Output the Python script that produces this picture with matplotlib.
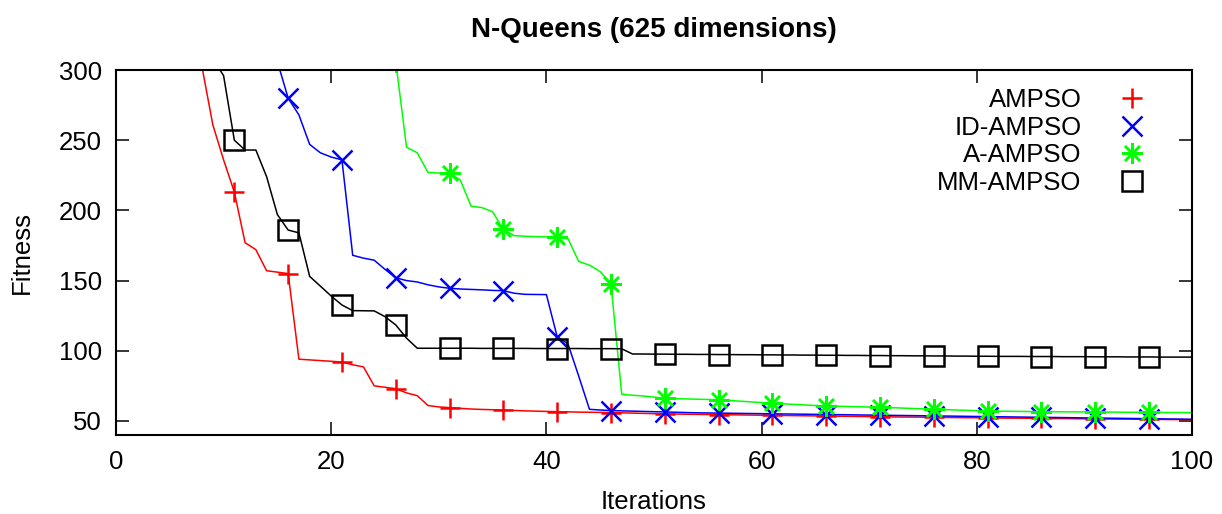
import matplotlib
matplotlib.use("Agg")
import matplotlib.pyplot as plt
from matplotlib.lines import Line2D

plt.rcParams['font.family'] = ['Liberation Sans', 'DejaVu Sans']

iterations = list(range(1, 101))

ampso = [600, 540, 480, 430, 390, 360, 335, 302, 261, 236,
         213, 177, 172, 157, 156, 155, 94, 93.5, 93, 92.5,
         92, 90, 88.5, 75, 74, 73, 70, 68, 61, 60,
         59.5, 59, 58.5, 58.2, 58, 57.8, 57.5, 57.2, 57, 56.8,
         56.6, 56.5, 56.3, 56.2, 56.1, 56, 55.8, 55.6, 55.4, 55.2,
         55.0, 54.9, 54.8, 54.7, 54.6, 54.5, 54.4, 54.3, 54.2, 54.1,
         54.0, 53.9, 53.8, 53.7, 53.6, 53.5, 53.4, 53.3, 53.2, 53.1,
         53.0, 52.9, 52.8, 52.8, 52.7, 52.6, 52.5, 52.4, 52.3, 52.3,
         52.2, 52.1, 52.0, 52.0, 51.9, 51.8, 51.7, 51.7, 51.6, 51.5,
         51.5, 51.4, 51.3, 51.3, 51.2, 51.1, 51.1, 51.0, 51.0, 50.9]

id_ampso = [900, 860, 820, 780, 740, 700, 660, 620, 580, 540,
            500, 460, 420, 380, 306, 280, 268, 247, 241, 238,
            236, 168, 166, 164.5, 158, 152, 150, 149, 147, 145.5,
            144.5, 144, 143.7, 143.4, 143, 142.8, 141, 140.2, 140.1, 140,
            110, 105, 82, 58.3, 57.8, 57.4, 57.2, 57.0, 56.8, 56.6,
            56.4, 56.2, 56.0, 55.8, 55.7, 55.6, 55.5, 55.4, 55.3, 55.2,
            55.1, 55.0, 54.9, 54.8, 54.7, 54.6, 54.5, 54.4, 54.3, 54.2,
            54.1, 54.0, 53.9, 53.8, 53.7, 53.6, 53.5, 53.4, 53.3, 53.2,
            53.1, 53.0, 52.9, 52.8, 52.7, 52.6, 52.5, 52.4, 52.3, 52.2,
            52.1, 52.0, 51.9, 51.8, 51.7, 51.6, 51.5, 51.4, 51.3, 51.2]

a_ampso = [950, 920, 890, 860, 830, 800, 770, 740, 710, 680,
           650, 620, 590, 560, 530, 500, 480, 460, 440, 420,
           400, 380, 360, 340, 320, 306, 245, 241, 227, 226.6,
           226.4, 221.6, 203, 202, 199, 186.5, 182, 181.6, 181.3, 181.1,
           180.9, 180, 163.6, 161, 156.4, 147.6, 69, 68.3, 67.8, 67,
           66.2, 65.9, 65.7, 65.5, 65.3, 65.0, 64.6, 64.1, 63.6, 63.1,
           62.6, 62.2, 61.8, 61.4, 61.0, 60.7, 60.5, 60.3, 60.1, 59.9,
           59.8, 59.5, 59.2, 58.9, 58.6, 58.3, 58.1, 57.8, 57.6, 57.3,
           57.1, 57.0, 56.9, 56.8, 56.7, 56.6, 56.6, 56.5, 56.5, 56.4,
           56.4, 56.3, 56.3, 56.2, 56.2, 56.1, 56.1, 56.0, 56.0, 55.9]

mm_ampso = [700, 650, 600, 550, 500, 450, 400, 350, 308, 296,
            250, 243, 243, 224, 197, 186, 184, 153, 146, 139,
            132.6, 128.6, 128.5, 128.4, 124.3, 118.4, 109, 101.8, 101.8, 101.8,
            101.8, 101.8, 101.8, 101.7, 101.7, 101.7, 101.7, 101.7, 101.6, 101.6,
            101.6, 101.6, 101.6, 101.5, 101.5, 101.5, 101.4, 97.7, 97.7, 97.6,
            97.6, 97.5, 97.5, 97.4, 97.4, 97.3, 97.3, 97.2, 97.2, 97.1,
            97.1, 97.0, 97.0, 96.9, 96.9, 96.8, 96.8, 96.7, 96.7, 96.6,
            96.6, 96.5, 96.5, 96.4, 96.4, 96.3, 96.3, 96.2, 96.2, 96.1,
            96.1, 96.0, 96.0, 96.0, 95.9, 95.9, 95.9, 95.8, 95.8, 95.8,
            95.7, 95.7, 95.7, 95.6, 95.6, 95.6, 95.5, 95.5, 95.5, 95.5]

series_names = ["AMPSO", "ID-AMPSO", "A-AMPSO", "MM-AMPSO"]
series_values = [ampso, id_ampso, a_ampso, mm_ampso]
colors = ["#ff0000", "#0000ff", "#00ff00", "#000000"]
markers = ["+", "x", (8, 2, 0), "s"]
msizes = [15, 15, 15, 15]

fig = plt.figure(figsize=(12.22, 5.14), dpi=100)
ax = fig.add_axes([0.0949, 0.1537, 0.8806, 0.7101])

for name, vals, c, m, ms in zip(series_names, series_values, colors, markers, msizes):
    ax.plot(iterations, vals, color=c, lw=1.1, marker=m, markevery=(0, 5),
            markersize=ms, markeredgewidth=1.8, markerfacecolor='none',
            markeredgecolor=c)

ax.set_xlim(0, 100)
ax.set_ylim(40, 300)
ax.set_xticks([0, 20, 40, 60, 80, 100])
ax.set_yticks([50, 100, 150, 200, 250, 300])
ax.tick_params(direction='in', length=9.5, width=1.1, top=True, right=True,
               labelsize=18.5, color='black')
ax.tick_params(axis='x', pad=11)
ax.tick_params(axis='y', pad=10)
for s in ax.spines.values():
    s.set_linewidth(1.5)

ax.set_title("N-Queens (625 dimensions)", fontsize=20, fontweight='bold', pad=24)
ax.set_xlabel("Iterations", fontsize=18.5, labelpad=11)
ax.set_ylabel("Fitness", fontsize=18.5, labelpad=18)

handles = [Line2D([], [], color=c, lw=0, marker=m, markersize=ms, markeredgewidth=1.8,
                  markerfacecolor='none', markeredgecolor=c)
           for c, m, ms in zip(colors, markers, msizes)]
leg = ax.legend(handles, series_names, loc='upper right', frameon=False, markerfirst=False,
                fontsize=18.5, handlelength=1.5, handletextpad=1.2, labelspacing=0.14,
                borderaxespad=0.3, bbox_to_anchor=(0.9785, 1.0))
for t in leg.get_texts():
    t.set_ha('right')

fig.savefig("out.png", dpi=100)
